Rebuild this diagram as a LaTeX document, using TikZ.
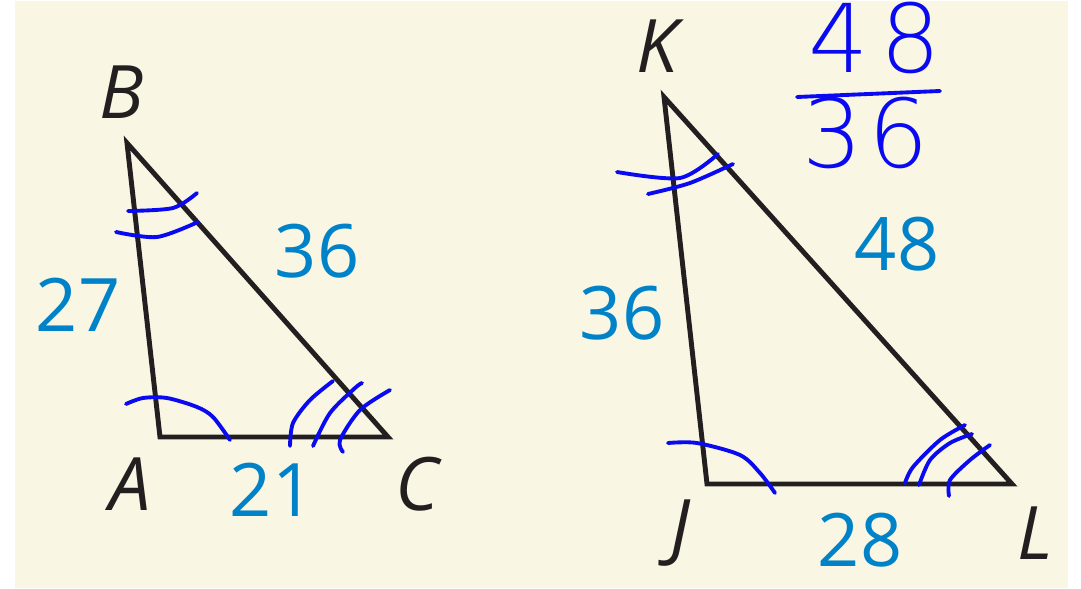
\documentclass[tikz,border=0pt]{standalone}
\usepackage{fontspec}
\setmainfont{Open Sans}
\newfontfamily\handfont{DejaVu Sans ExtraLight}
\usepackage{tikz}
\usepackage{xcolor}
\definecolor{paper}{RGB}{249,246,228}
\definecolor{ink}{RGB}{35,31,32}
\definecolor{numblue}{RGB}{0,130,200}
\definecolor{penblue}{RGB}{10,10,240}

\tikzset{
  tri/.style={draw=ink,line width=2.8pt},
  vlabel/.style={text=ink,font=\fontsize{42}{46}\selectfont\itshape,inner sep=0pt},
  side/.style={text=numblue,font=\fontsize{42}{46}\selectfont,inner sep=0pt},
  pen/.style={draw=penblue,line width=2.2pt,line cap=round,line join=round},
  pennum/.style={text=penblue,font=\fontsize{54}{58}\selectfont\handfont,inner sep=0pt}
}

\begin{document}
\begin{tikzpicture}[x=0.02cm,y=-0.02cm]
\useasboundingbox (0,0) rectangle (1081,588);
\fill[white] (0,0) rectangle (1081,588);
\fill[paper] (15,1) rectangle (1068,588);

% triangle ABC
\coordinate (B) at (127,143);
\coordinate (A) at (160,437);
\coordinate (C) at (388,437);
\draw[tri] (A) -- (B) -- (C) -- cycle;
\node[vlabel] (lB) at (122,92) {B};
\node[vlabel] (lA) at (130,484) {A};
\node[vlabel] (lC) at (417,484) {C};
\node[side] (sAB) at (78,305) {27};
\node[side] (sBC) at (317,251) {36};
\node[side] (sAC) at (272,490) {21};

% triangle JKL
\coordinate (K) at (664,97);
\coordinate (J) at (707,484);
\coordinate (L) at (1012,484);
\draw[tri] (J) -- (K) -- (L) -- cycle;
\node[vlabel] (lK) at (657,46) {K};
\node[vlabel] (lJ) at (680,533) {J};
\node[vlabel] (lL) at (1035,533) {L};
\node[side] (sJK) at (622,313) {36};
\node[side] (sKL) at (897,244) {48};
\node[side] (sJL) at (860,540) {28};

% marks drawn by hand
\draw[pen] plot[smooth] coordinates {(128,211) (173,208) (197,193)};
\draw[pen] plot[smooth] coordinates {(116,232) (157,237) (198,222)};
\draw[pen] plot[smooth] coordinates {(126,404) (143,398) (167,398) (197,407) (213,417) (230,440)};
\draw[pen] plot[smooth] coordinates {(290,446) (293,423) (310,400) (333,381)};
\draw[pen] plot[smooth] coordinates {(313,446) (330,413) (355,388) (362,383)};
\draw[pen] plot[smooth] coordinates {(343,452) (340,440) (360,410) (390,390)};

\draw[pen] plot[smooth] coordinates {(617,172) (680,178) (718,154)};
\draw[pen] plot[smooth] coordinates {(648,194) (690,183) (733,164)};
\draw[pen] plot[smooth] coordinates {(668,443) (697,443) (740,455) (760,473) (775,493)};
\draw[pen] plot[smooth] coordinates {(905,483) (913,467) (940,440) (965,425)};
\draw[pen] plot[smooth] coordinates {(919,485) (930,460) (950,443) (972,434)};
\draw[pen] plot[smooth] coordinates {(949,496) (950,480) (970,460) (990,445)};

% the ratio
\node[pennum] (top) at (875,38) {4\kern0.12em 8};
\node[pennum] (bot) at (866,133) {3\kern0.06em 6};
\coordinate (barL) at (797,97);
\coordinate (barR) at (940,91);
\draw[pen] (barL) -- (barR);
\end{tikzpicture}
\end{document}
